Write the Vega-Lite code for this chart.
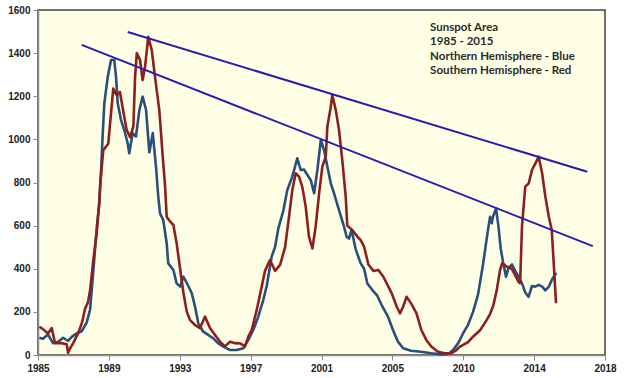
{
  "$schema": "https://vega.github.io/schema/vega-lite/v6.json",
  "width": 567,
  "height": 345,
  "autosize": {"type": "none"},
  "padding": {"left": 38, "top": 10, "right": 19, "bottom": 23},
  "background": "white",
  "config": {
    "view": {"fill": "#FFFFE6", "stroke": "#404040", "strokeWidth": 1.5},
    "axis": {
      "grid": false,
      "title": null,
      "domainColor": "#8C8C8C",
      "domainWidth": 1.5,
      "tickColor": "#8C8C8C",
      "tickSize": 5,
      "labelFont": "Liberation Sans",
      "labelFontWeight": "bold",
      "labelFontSize": 10,
      "labelColor": "#222222",
      "labelPadding": 3,
      "labelFlush": false,
      "labelOverlap": false
    }
  },
  "datasets": {
    "north": [
      {"year": 1985.08, "value": 80}, {"year": 1985.29, "value": 75}, {"year": 1985.58, "value": 95}, {"year": 1985.87, "value": 55},
      {"year": 1986.16, "value": 60}, {"year": 1986.46, "value": 80}, {"year": 1986.75, "value": 65}, {"year": 1986.98, "value": 85},
      {"year": 1987.25, "value": 100}, {"year": 1987.54, "value": 110}, {"year": 1987.83, "value": 150}, {"year": 1988.03, "value": 210},
      {"year": 1988.20, "value": 370}, {"year": 1988.43, "value": 600}, {"year": 1988.57, "value": 700}, {"year": 1988.67, "value": 858},
      {"year": 1988.77, "value": 1029}, {"year": 1988.86, "value": 1167}, {"year": 1989.06, "value": 1291}, {"year": 1989.25, "value": 1368},
      {"year": 1989.44, "value": 1368}, {"year": 1989.54, "value": 1291}, {"year": 1989.64, "value": 1167}, {"year": 1989.83, "value": 1090},
      {"year": 1990.02, "value": 1044}, {"year": 1990.22, "value": 982}, {"year": 1990.31, "value": 936}, {"year": 1990.51, "value": 1029},
      {"year": 1990.70, "value": 1013}, {"year": 1990.90, "value": 1136}, {"year": 1991.09, "value": 1198}, {"year": 1991.29, "value": 1136},
      {"year": 1991.48, "value": 940}, {"year": 1991.68, "value": 1029}, {"year": 1991.87, "value": 870}, {"year": 1992.00, "value": 734},
      {"year": 1992.10, "value": 657}, {"year": 1992.29, "value": 626}, {"year": 1992.49, "value": 518}, {"year": 1992.58, "value": 425},
      {"year": 1992.88, "value": 394}, {"year": 1993.07, "value": 332}, {"year": 1993.27, "value": 317}, {"year": 1993.46, "value": 363},
      {"year": 1993.75, "value": 320}, {"year": 1993.95, "value": 286}, {"year": 1994.14, "value": 224}, {"year": 1994.33, "value": 147},
      {"year": 1994.62, "value": 108}, {"year": 1994.91, "value": 93}, {"year": 1995.20, "value": 77}, {"year": 1995.49, "value": 54},
      {"year": 1995.79, "value": 39}, {"year": 1996.18, "value": 23}, {"year": 1996.57, "value": 23}, {"year": 1996.95, "value": 31},
      {"year": 1997.24, "value": 70}, {"year": 1997.53, "value": 116}, {"year": 1997.82, "value": 178}, {"year": 1998.11, "value": 255},
      {"year": 1998.31, "value": 320}, {"year": 1998.60, "value": 456}, {"year": 1998.80, "value": 502}, {"year": 1998.99, "value": 588},
      {"year": 1999.28, "value": 670}, {"year": 1999.51, "value": 765}, {"year": 1999.80, "value": 827}, {"year": 2000.09, "value": 912},
      {"year": 2000.29, "value": 858}, {"year": 2000.48, "value": 860}, {"year": 2000.68, "value": 835}, {"year": 2000.87, "value": 812},
      {"year": 2001.07, "value": 750}, {"year": 2001.26, "value": 858}, {"year": 2001.46, "value": 997}, {"year": 2001.65, "value": 950},
      {"year": 2001.84, "value": 874}, {"year": 2002.04, "value": 796}, {"year": 2002.23, "value": 750}, {"year": 2002.52, "value": 672},
      {"year": 2002.81, "value": 595}, {"year": 2002.96, "value": 549}, {"year": 2003.10, "value": 540}, {"year": 2003.25, "value": 580},
      {"year": 2003.49, "value": 490}, {"year": 2003.78, "value": 425}, {"year": 2003.98, "value": 400}, {"year": 2004.17, "value": 332},
      {"year": 2004.46, "value": 301}, {"year": 2004.75, "value": 275}, {"year": 2005.04, "value": 225}, {"year": 2005.37, "value": 178},
      {"year": 2005.66, "value": 116}, {"year": 2005.95, "value": 62}, {"year": 2006.25, "value": 31}, {"year": 2006.71, "value": 20},
      {"year": 2007.29, "value": 15}, {"year": 2007.89, "value": 8}, {"year": 2008.46, "value": 3}, {"year": 2008.87, "value": 5},
      {"year": 2009.16, "value": 23}, {"year": 2009.45, "value": 54}, {"year": 2009.74, "value": 100}, {"year": 2010.03, "value": 140},
      {"year": 2010.32, "value": 200}, {"year": 2010.61, "value": 280}, {"year": 2010.90, "value": 420}, {"year": 2011.19, "value": 580},
      {"year": 2011.31, "value": 641}, {"year": 2011.41, "value": 611}, {"year": 2011.48, "value": 641}, {"year": 2011.66, "value": 680},
      {"year": 2011.80, "value": 595}, {"year": 2011.93, "value": 494}, {"year": 2012.08, "value": 425}, {"year": 2012.24, "value": 363},
      {"year": 2012.39, "value": 405}, {"year": 2012.59, "value": 420}, {"year": 2012.77, "value": 390}, {"year": 2012.97, "value": 363},
      {"year": 2013.17, "value": 332}, {"year": 2013.36, "value": 290}, {"year": 2013.55, "value": 270}, {"year": 2013.75, "value": 320},
      {"year": 2013.95, "value": 317}, {"year": 2014.14, "value": 325}, {"year": 2014.34, "value": 317}, {"year": 2014.53, "value": 300},
      {"year": 2014.73, "value": 317}, {"year": 2014.92, "value": 350}, {"year": 2015.11, "value": 375}, {"year": 2015.19, "value": 379}
    ],
    "south": [
      {"year": 1985.08, "value": 131}, {"year": 1985.29, "value": 120}, {"year": 1985.58, "value": 100}, {"year": 1985.80, "value": 125},
      {"year": 1985.99, "value": 55}, {"year": 1986.38, "value": 55}, {"year": 1986.67, "value": 50}, {"year": 1986.75, "value": 10},
      {"year": 1986.86, "value": 30}, {"year": 1987.05, "value": 55}, {"year": 1987.33, "value": 100}, {"year": 1987.56, "value": 150},
      {"year": 1987.74, "value": 215}, {"year": 1987.91, "value": 245}, {"year": 1988.03, "value": 300}, {"year": 1988.22, "value": 440},
      {"year": 1988.42, "value": 570}, {"year": 1988.57, "value": 720}, {"year": 1988.61, "value": 780}, {"year": 1988.80, "value": 950},
      {"year": 1989.09, "value": 980}, {"year": 1989.38, "value": 1236}, {"year": 1989.58, "value": 1205}, {"year": 1989.77, "value": 1220},
      {"year": 1989.95, "value": 1136}, {"year": 1990.16, "value": 1044}, {"year": 1990.36, "value": 1010}, {"year": 1990.55, "value": 1060},
      {"year": 1990.65, "value": 1290}, {"year": 1990.75, "value": 1400}, {"year": 1990.94, "value": 1368}, {"year": 1991.09, "value": 1275},
      {"year": 1991.23, "value": 1337}, {"year": 1991.42, "value": 1476}, {"year": 1991.62, "value": 1414}, {"year": 1991.81, "value": 1290},
      {"year": 1992.06, "value": 1136}, {"year": 1992.26, "value": 920}, {"year": 1992.39, "value": 790}, {"year": 1992.49, "value": 641},
      {"year": 1992.63, "value": 625}, {"year": 1992.78, "value": 611}, {"year": 1992.88, "value": 603}, {"year": 1993.07, "value": 518},
      {"year": 1993.27, "value": 400}, {"year": 1993.46, "value": 290}, {"year": 1993.66, "value": 200}, {"year": 1993.85, "value": 162},
      {"year": 1994.14, "value": 139}, {"year": 1994.43, "value": 125}, {"year": 1994.72, "value": 178}, {"year": 1995.01, "value": 125},
      {"year": 1995.30, "value": 93}, {"year": 1995.59, "value": 62}, {"year": 1995.88, "value": 40}, {"year": 1996.18, "value": 62},
      {"year": 1996.47, "value": 55}, {"year": 1996.76, "value": 54}, {"year": 1997.05, "value": 40}, {"year": 1997.24, "value": 85},
      {"year": 1997.44, "value": 116}, {"year": 1997.73, "value": 209}, {"year": 1997.92, "value": 280}, {"year": 1998.21, "value": 390},
      {"year": 1998.50, "value": 440}, {"year": 1998.80, "value": 390}, {"year": 1999.09, "value": 418}, {"year": 1999.38, "value": 500},
      {"year": 1999.61, "value": 641}, {"year": 1999.80, "value": 765}, {"year": 2000.00, "value": 843}, {"year": 2000.19, "value": 827},
      {"year": 2000.38, "value": 781}, {"year": 2000.58, "value": 688}, {"year": 2000.77, "value": 549}, {"year": 2000.97, "value": 494},
      {"year": 2001.16, "value": 595}, {"year": 2001.36, "value": 750}, {"year": 2001.55, "value": 874}, {"year": 2001.75, "value": 920},
      {"year": 2001.84, "value": 1059}, {"year": 2002.04, "value": 1152}, {"year": 2002.13, "value": 1205}, {"year": 2002.33, "value": 1136},
      {"year": 2002.52, "value": 1044}, {"year": 2002.71, "value": 904}, {"year": 2002.91, "value": 734}, {"year": 2003.00, "value": 600},
      {"year": 2003.29, "value": 580}, {"year": 2003.59, "value": 549}, {"year": 2003.78, "value": 533}, {"year": 2003.98, "value": 502},
      {"year": 2004.23, "value": 420}, {"year": 2004.52, "value": 390}, {"year": 2004.81, "value": 394}, {"year": 2005.10, "value": 363},
      {"year": 2005.31, "value": 330}, {"year": 2005.59, "value": 286}, {"year": 2005.88, "value": 224}, {"year": 2006.07, "value": 193},
      {"year": 2006.25, "value": 224}, {"year": 2006.45, "value": 270}, {"year": 2006.74, "value": 236}, {"year": 2007.03, "value": 193},
      {"year": 2007.31, "value": 116}, {"year": 2007.60, "value": 70}, {"year": 2007.89, "value": 39}, {"year": 2008.28, "value": 15},
      {"year": 2008.67, "value": 8}, {"year": 2009.06, "value": 8}, {"year": 2009.35, "value": 23}, {"year": 2009.56, "value": 39},
      {"year": 2010.03, "value": 60}, {"year": 2010.32, "value": 85}, {"year": 2010.73, "value": 115}, {"year": 2011.02, "value": 150},
      {"year": 2011.31, "value": 190}, {"year": 2011.50, "value": 230}, {"year": 2011.70, "value": 301}, {"year": 2011.89, "value": 394},
      {"year": 2012.01, "value": 425}, {"year": 2012.28, "value": 410}, {"year": 2012.57, "value": 400}, {"year": 2012.77, "value": 370},
      {"year": 2012.96, "value": 340}, {"year": 2013.06, "value": 333}, {"year": 2013.17, "value": 600}, {"year": 2013.36, "value": 781},
      {"year": 2013.56, "value": 796}, {"year": 2013.75, "value": 858}, {"year": 2013.95, "value": 889}, {"year": 2014.14, "value": 920},
      {"year": 2014.34, "value": 843}, {"year": 2014.53, "value": 734}, {"year": 2014.73, "value": 641}, {"year": 2014.90, "value": 580},
      {"year": 2015.02, "value": 420}, {"year": 2015.15, "value": 240}
    ],
    "trends": [
      {"line": "upper", "year": 1990.22, "value": 1498},
      {"line": "upper", "year": 2016.97, "value": 850},
      {"line": "lower", "year": 1987.54, "value": 1438},
      {"line": "lower", "year": 2017.29, "value": 505}
    ],
    "notes": [
      {"year": 2007.82, "value": 1517, "label": "Sunspot Area"},
      {"year": 2007.82, "value": 1450, "label": "1985 - 2015"},
      {"year": 2007.82, "value": 1383, "label": "Northern Hemisphere  - Blue"},
      {"year": 2007.82, "value": 1315, "label": "Southern Hemisphere - Red"}
    ]
  },
  "encoding": {
    "x": {
      "field": "year",
      "type": "quantitative",
      "scale": {"domain": [1985, 2018], "nice": false, "zero": false},
      "axis": {
        "values": [1985, 1989.125, 1993.25, 1997.375, 2001.5, 2005.625, 2009.75, 2013.875, 2018],
        "labelExpr": "['1985','1989','1993','1997','2001','2005','2010','2014','2018'][round((datum.value - 1985) / 4.125)]"
      }
    },
    "y": {
      "field": "value",
      "type": "quantitative",
      "scale": {"domain": [0, 1600], "nice": false, "zero": true},
      "axis": {"values": [0, 200, 400, 600, 800, 1000, 1200, 1400, 1600], "format": "d"}
    }
  },
  "layer": [
    {
      "data": {"name": "north"},
      "mark": {"type": "line", "color": "#2A4F7C", "strokeWidth": 2.6, "strokeJoin": "round"}
    },
    {
      "data": {"name": "south"},
      "mark": {"type": "line", "color": "#8E1F1F", "strokeWidth": 2.6, "strokeJoin": "round"}
    },
    {
      "data": {"name": "trends"},
      "mark": {"type": "line", "color": "#2B1CB4", "strokeWidth": 2},
      "encoding": {"detail": {"field": "line", "type": "nominal"}}
    },
    {
      "data": {"name": "notes"},
      "mark": {"type": "text", "align": "left", "baseline": "middle", "font": "Lato", "fontWeight": "bold", "fontSize": 11.5, "color": "#2B2B2B"},
      "encoding": {"text": {"field": "label", "type": "nominal"}}
    }
  ]
}
